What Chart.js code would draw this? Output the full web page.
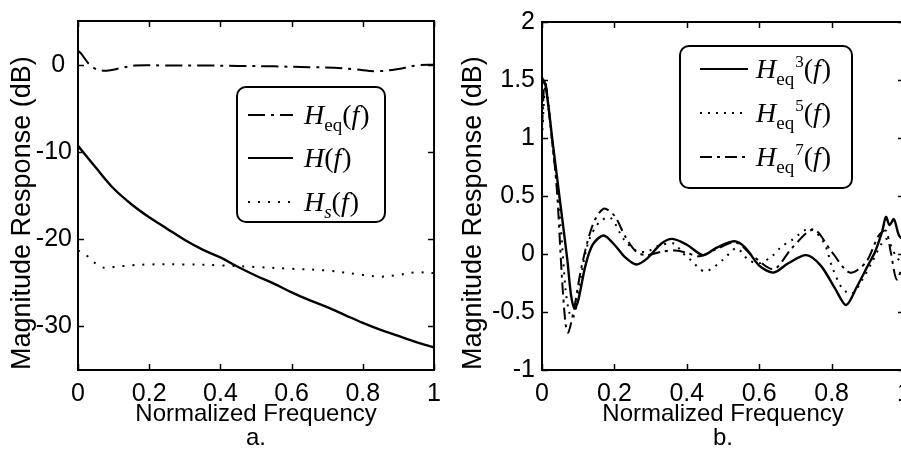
<!DOCTYPE html>
<html><head><meta charset="utf-8">
<script src="https://cdn.jsdelivr.net/npm/chart.js@4/dist/chart.umd.min.js"></script>
<style>
html,body{margin:0;padding:0;background:#fff;overflow:hidden;width:901px;height:450px;}
#wa{position:absolute;left:0;top:0;width:450px;height:450px;}
#wb{position:absolute;left:450px;top:0;width:470px;height:450px;}
</style></head><body>
<div id="wa"><canvas id="ca"></canvas></div>
<div id="wb"><canvas id="cb"></canvas></div>
<script>
// ---------- DATA: panel a ----------
const xTicksA = [0, 0.2, 0.4, 0.6, 0.8, 1];
const xLabelsA = ['0', '0.2', '0.4', '0.6', '0.8', '1'];
const yTicksA = [-30, -20, -10, 0];
const yLabelsA = ['-30', '-20', '-10', '0 '];

const freqHeq = [0, 0.01, 0.03, 0.05, 0.08, 0.12, 0.16, 0.25, 0.35, 0.45, 0.55, 0.65, 0.72, 0.78, 0.84, 0.9, 0.95, 1.0];
const magHeq  = [1.6, 1.2, 0.1, -0.5, -0.7, -0.4, -0.1, -0.1, -0.1, -0.15, -0.2, -0.3, -0.35, -0.55, -0.75, -0.5, -0.1, 0.0];

const freqH = [0, 0.05, 0.1, 0.15, 0.2, 0.25, 0.3, 0.35, 0.4, 0.45, 0.5, 0.55, 0.6, 0.65, 0.7, 0.75, 0.8, 0.85, 0.9, 0.95, 1.0];
const magH  = [-9.3, -11.8, -14.2, -16.0, -17.5, -18.8, -20.1, -21.2, -22.1, -23.2, -24.2, -25.1, -26.1, -27.0, -27.8, -28.7, -29.6, -30.4, -31.1, -31.8, -32.4];

const freqHs = [0, 0.025, 0.05, 0.075, 0.1, 0.15, 0.2, 0.3, 0.4, 0.5, 0.6, 0.7, 0.8, 0.85, 0.9, 0.95, 1.0];
const magHs  = [-21.3, -21.9, -22.8, -23.3, -23.2, -23.0, -22.9, -22.9, -23.0, -23.2, -23.4, -23.6, -24.1, -24.3, -24.1, -23.8, -23.9];

// ---------- DATA: panel b ----------
const xTicksB = [0, 0.2, 0.4, 0.6, 0.8, 1];
const xLabelsB = ['0', '0.2', '0.4', '0.6', '0.8', '1'];
const yTicksB = [-1, -0.5, 0, 0.5, 1, 1.5, 2];
const yLabelsB = ['-1', '-0.5', '0', '0.5', '1', '1.5', '2'];

const freqEq3 = [0, 0.01, 0.03, 0.05, 0.07, 0.08, 0.09, 0.1, 0.12, 0.14, 0.17, 0.2, 0.23, 0.26, 0.29, 0.33, 0.36, 0.4, 0.445, 0.48, 0.53, 0.56, 0.6, 0.64, 0.68, 0.73, 0.77, 0.81, 0.84, 0.87, 0.9, 0.92, 0.94, 0.95, 0.96, 0.972, 0.986, 1.0];
const magEq3  = [1.52, 1.45, 0.95, 0.45, -0.05, -0.35, -0.47, -0.4, -0.1, 0.08, 0.16, 0.08, -0.03, -0.09, -0.04, 0.09, 0.13, 0.08, -0.01, 0.05, 0.11, 0.06, -0.1, -0.16, -0.08, -0.01, -0.1, -0.3, -0.44, -0.28, -0.1, 0.02, 0.2, 0.32, 0.25, 0.3, 0.16, 0.12];

const freqEq5 = [0, 0.01, 0.03, 0.05, 0.065, 0.075, 0.085, 0.095, 0.11, 0.13, 0.16, 0.19, 0.225, 0.26, 0.29, 0.32, 0.366, 0.385, 0.41, 0.45, 0.5, 0.537, 0.57, 0.6, 0.635, 0.66, 0.69, 0.74, 0.78, 0.8, 0.83, 0.857, 0.885, 0.91, 0.95, 0.978, 1.0];
const magEq5  = [1.0, 1.45, 0.9, 0.3, -0.3, -0.5, -0.55, -0.45, -0.15, 0.12, 0.28, 0.31, 0.13, 0.03, 0.02, 0.07, 0.09, 0.02, -0.05, -0.15, -0.05, 0.05, -0.05, -0.08, -0.02, 0.06, 0.12, 0.22, 0.09, -0.1, -0.3, -0.34, -0.22, -0.08, 0.13, -0.02, -0.1];

const freqEq7 = [0, 0.008, 0.02, 0.04, 0.055, 0.065, 0.072, 0.08, 0.09, 0.11, 0.14, 0.17, 0.2, 0.23, 0.26, 0.29, 0.33, 0.37, 0.4, 0.435, 0.48, 0.535, 0.58, 0.64, 0.69, 0.75, 0.8, 0.85, 0.895, 0.93, 0.95, 0.963, 0.98, 1.0];
const magEq7  = [1.1, 1.5, 1.2, 0.6, -0.2, -0.6, -0.68, -0.6, -0.45, -0.1, 0.25, 0.39, 0.33, 0.15, 0.02, -0.01, 0.02, 0.03, 0.01, -0.02, 0.04, 0.1, -0.01, -0.13, 0.05, 0.21, 0.02, -0.16, -0.07, 0.16, 0.2, 0.02, -0.22, -0.05];

// ---------- rendering ----------
const SANS = '"Liberation Sans", Arial, Helvetica, sans-serif';
const SERIF = '"Liberation Serif", "Times New Roman", serif';
const DASHDOT_A = [17, 6, 3, 6];
const DOTTED_A = [2, 8];
const DASHDOT_B = [12, 5, 3, 5];
const DOTTED_B = [2, 6];

function pts(xs, ys) { return xs.map((x, i) => ({x: x, y: ys[i]})); }

const framePlugin = {
  id: 'frame',
  afterDatasetsDraw(chart) {
    const {ctx, chartArea: a, scales} = chart;
    ctx.save();
    ctx.strokeStyle = '#000';
    ctx.lineWidth = 2;
    ctx.setLineDash([]);
    ctx.strokeRect(a.left, a.top, a.right - a.left, a.bottom - a.top);
    ctx.lineWidth = 1.5;
    const L = 6;
    ctx.beginPath();
    scales.x.ticks.forEach(t => {
      const px = Math.round(scales.x.getPixelForValue(t.value)) + 0.5;
      ctx.moveTo(px, a.bottom); ctx.lineTo(px, a.bottom - L);
      ctx.moveTo(px, a.top); ctx.lineTo(px, a.top + L);
    });
    scales.y.ticks.forEach(t => {
      const py = Math.round(scales.y.getPixelForValue(t.value)) + 0.5;
      ctx.moveTo(a.left, py); ctx.lineTo(a.left + L, py);
      ctx.moveTo(a.right, py); ctx.lineTo(a.right - L, py);
    });
    ctx.stroke();
    ctx.restore();
  }
};

const legendPlugin = {
  id: 'richLegend',
  afterDraw(chart, args, opts) {
    if (!opts || !opts.rows) return;
    const ctx = chart.ctx;
    ctx.save();
    const {x, y, w, h, r} = opts.box;
    ctx.fillStyle = '#fff';
    ctx.strokeStyle = '#000';
    ctx.lineWidth = 2;
    ctx.setLineDash([]);
    ctx.beginPath();
    ctx.moveTo(x + r, y);
    ctx.arcTo(x + w, y, x + w, y + h, r);
    ctx.arcTo(x + w, y + h, x, y + h, r);
    ctx.arcTo(x, y + h, x, y, r);
    ctx.arcTo(x, y, x + w, y, r);
    ctx.closePath();
    ctx.fill();
    ctx.stroke();
    opts.rows.forEach(row => {
      const cy = row.y;
      ctx.lineWidth = 2;
      ctx.setLineDash(row.dash);
      ctx.beginPath();
      ctx.moveTo(opts.sx0, cy); ctx.lineTo(opts.sx1, cy);
      ctx.stroke();
      ctx.setLineDash([]);
      ctx.fillStyle = '#000';
      ctx.textBaseline = 'alphabetic';
      ctx.textAlign = 'left';
      let tx = opts.tx;
      const base = cy + 9;
      const big = 28;
      ctx.font = 'italic ' + big + 'px ' + SERIF;
      ctx.fillText('H', tx, base); tx += ctx.measureText('H').width;
      let subW = 0;
      if (row.sub) {
        ctx.font = (row.subItalic ? 'italic ' : '') + '19px ' + SERIF;
        ctx.fillText(row.sub, tx, base + 7); subW = ctx.measureText(row.sub).width;
      }
      let supW = 0;
      if (row.sup) {
        ctx.font = '17px ' + SERIF;
        ctx.fillText(row.sup, tx + subW + 1, base - 11); supW = ctx.measureText(row.sup).width + 1;
      }
      tx += subW + supW;
      ctx.font = big + 'px ' + SERIF;
      ctx.fillText('(', tx, base); tx += ctx.measureText('(').width;
      ctx.font = 'italic ' + big + 'px ' + SERIF;
      ctx.fillText('f', tx, base); tx += ctx.measureText('f').width + 1;
      ctx.font = big + 'px ' + SERIF;
      ctx.fillText(')', tx, base);
    });
    ctx.restore();
  }
};

function makeChart(id, datasets, cfg) {
  return new Chart(document.getElementById(id), {
    type: 'line',
    data: {datasets: datasets},
    plugins: [framePlugin, legendPlugin],
    options: {
      responsive: true,
      maintainAspectRatio: false,
      animation: false,
      devicePixelRatio: 1,
      layout: {padding: {left: 0, right: cfg.padRight, top: cfg.padTop, bottom: 0}},
      plugins: {legend: {display: false}, tooltip: {enabled: false}, richLegend: cfg.legend},
      elements: {point: {radius: 0}},
      scales: {
        x: {
          type: 'linear', min: 0, max: 1,
          afterBuildTicks: s => { s.ticks = cfg.xTicks.map(v => ({value: v})); },
          afterFit: s => { s.height = 80; },
          ticks: {
            color: '#000', padding: 9, maxRotation: 0, autoSkip: false,
            font: {family: SANS, size: 25},
            callback: (v, i) => cfg.xLabels[i]
          },
          grid: {display: false, drawTicks: false},
          border: {display: false},
          title: {
            display: true, text: ['Normalized Frequency', cfg.sub], color: '#000',
            font: {family: SANS, size: 24, lineHeight: 1.0},
            padding: {top: 0, bottom: 0}
          }
        },
        y: {
          type: 'linear', min: cfg.yMin, max: cfg.yMax,
          afterBuildTicks: s => { s.ticks = cfg.yTicks.map(v => ({value: v})); },
          afterFit: s => { s.width = cfg.yWidth; },
          ticks: {
            color: '#000', padding: cfg.yPad, autoSkip: false,
            font: {family: SANS, size: 25},
            callback: (v, i) => cfg.yLabels[i]
          },
          grid: {display: false, drawTicks: false},
          border: {display: false},
          title: {
            display: true, text: 'Magnitude Response (dB)', align: 'start', color: '#000',
            font: {family: SANS, size: 27, lineHeight: 1.2},
            padding: {top: cfg.titlePad, bottom: 0}
          }
        }
      }
    }
  });
}

function ds(xs, ys, dash, width, smooth) {
  return {
    data: pts(xs, ys), borderColor: '#000', borderWidth: width, borderDash: dash,
    pointRadius: 0, fill: false, tension: smooth
  };
}

makeChart('ca', [
  ds(freqHeq, magHeq, DASHDOT_A, 2, 0.35),
  ds(freqH, magH, [], 2.4, 0.35),
  ds(freqHs, magHs, DOTTED_A, 2, 0.35)
], {
  padRight: 9, padTop: 7, yMin: -35, yMax: 5, yWidth: 78, yPad: 6, titlePad: 6,
  xTicks: xTicksA, xLabels: xLabelsA, yTicks: yTicksA, yLabels: yLabelsA, sub: 'a.',
  legend: {
    box: {x: 237, y: 87, w: 148, h: 135, r: 9},
    sx0: 248, sx1: 293, tx: 304,
    rows: [
      {y: 115, dash: DASHDOT_A, sub: 'eq'},
      {y: 158, dash: [], sub: ''},
      {y: 202, dash: DOTTED_A, sub: 's', subItalic: true}
    ]
  }
});

makeChart('cb', [
  ds(freqEq3, magEq3, [], 2.4, 0.3),
  ds(freqEq5, magEq5, DOTTED_B, 2, 0.3),
  ds(freqEq7, magEq7, DASHDOT_B, 2, 0.3)
], {
  padRight: 15, padTop: 8, yMin: -1, yMax: 2, yWidth: 92, yPad: 7, titlePad: 7,
  xTicks: xTicksB, xLabels: xLabelsB, yTicks: yTicksB, yLabels: yLabelsB, sub: 'b.',
  legend: {
    box: {x: 230, y: 46, w: 172, h: 142, r: 9},
    sx0: 250, sx1: 298, tx: 306,
    rows: [
      {y: 69, dash: [], sub: 'eq', sup: '3'},
      {y: 113, dash: DOTTED_B, sub: 'eq', sup: '5'},
      {y: 157, dash: DASHDOT_B, sub: 'eq', sup: '7'}
    ]
  }
});
</script>
</body></html>
